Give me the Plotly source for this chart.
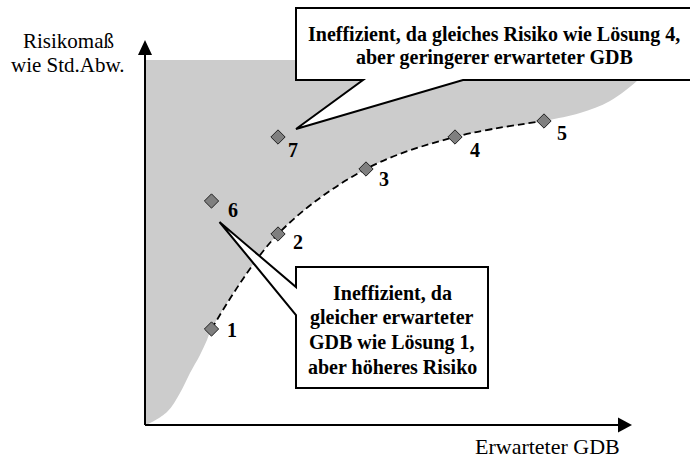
import plotly.graph_objects as go

# ---------------- data ----------------
labels = ["1", "2", "3", "4", "5", "6", "7"]
gdb = [1.33, 2.66, 4.42, 6.20, 7.98, 1.33, 2.66]       # Erwarteter GDB
risk = [1.92, 3.82, 5.12, 5.76, 6.08, 4.48, 5.76]      # Risikomaß
efficient = [0, 1, 2, 3, 4]                            # Lösungen 1-5 (effizient)

# boundary of the feasible (grey) region
region_low_x = [0.0, 0.0, 0.0, 0.44, 0.70, 0.90, 1.10, 1.24]
region_low_y = [7.30, 0.02, 0.0, 0.26, 0.64, 1.04, 1.40, 1.70]
region_up_x = [8.70, 9.30, 9.86, 10.20, 10.40]
region_up_y = [6.24, 6.48, 6.90, 7.26, 7.30]

# ---------------- layout helpers ----------------
W, H = 690, 461
PX = 50.0            # pixels per unit
OX, OY = 145, 425    # origin in pixels
XR = [-OX / PX, (W - OX) / PX]
YR = [-(H - OY) / PX, OY / PX]


def d(xp, yp):
    return ((xp - OX) / PX, (OY - yp) / PX)


def p(x, y):
    return (OX + x * PX, OY - y * PX)


def path(pts):
    s = ""
    for i, (xp, yp) in enumerate(pts):
        x, y = d(xp, yp)
        s += ("M" if i == 0 else "L") + f"{x:.4f},{y:.4f} "
    return s + "Z"


FONT = "Liberation Serif, Times New Roman, serif"

fig = go.Figure()

# grey region
eff_x = [gdb[i] for i in efficient]
eff_y = [risk[i] for i in efficient]
bx = region_low_x + eff_x + region_up_x
by = region_low_y + eff_y + region_up_y
fig.add_trace(go.Scatter(x=bx, y=by, mode="lines", fill="toself",
                         fillcolor="#cccccc", line=dict(width=0, shape="spline", smoothing=1),
                         hoverinfo="skip", showlegend=False))

# efficient frontier (dashed)
fig.add_trace(go.Scatter(x=eff_x, y=eff_y, mode="lines",
                         line=dict(color="black", width=1.8, dash="7px,4px",
                                   shape="spline", smoothing=1),
                         hoverinfo="skip", showlegend=False))

# solutions
fig.add_trace(go.Scatter(x=gdb, y=risk, mode="markers",
                         marker=dict(symbol="diamond", size=11, color="#7f7f7f",
                                     line=dict(color="#222222", width=1)),
                         hoverinfo="skip", showlegend=False))

# point labels
label_shift = [(20, -1), (20, -8), (18, -10), (20, -13), (18, -12), (21, -9), (15, -13)]
for lab, x, y, (sx, sy) in zip(labels, gdb, risk, label_shift):
    fig.add_annotation(x=x, y=y, text=f"<b>{lab}</b>", showarrow=False,
                       xshift=sx, yshift=sy, xanchor="center", yanchor="middle",
                       font=dict(family=FONT, size=20, color="black"))

shapes = []
# axes with arrow heads
yb = d(OX, 55)[1]
xb = d(618, OY)[0]
shapes.append(dict(type="line", x0=0, y0=0, x1=0, y1=yb, xref="x", yref="y",
                   line=dict(color="black", width=2)))
shapes.append(dict(type="line", x0=0, y0=0, x1=xb, y1=0, xref="x", yref="y",
                   line=dict(color="black", width=2)))
shapes.append(dict(type="path", xref="x", yref="y",
                   path=path([(OX - 7, 55), (OX + 7, 55), (OX, 40)]),
                   fillcolor="black", line=dict(width=0)))
shapes.append(dict(type="path", xref="x", yref="y",
                   path=path([(618, OY - 7.5), (618, OY + 7.5), (632, OY)]),
                   fillcolor="black", line=dict(width=0)))

# callouts
t7 = p(gdb[6], risk[6])
tip_top = (t7[0] + 18, t7[1] - 8)
t6 = p(gdb[5], risk[5])
tip_bot = (t6[0] + 8, t6[1] + 21)
shapes.append(dict(type="path", xref="x", yref="y",
                   path=path([(296, 8), (700, 8), (700, 80), (463, 80), tip_top,
                              (363, 80), (296, 80)]),
                   fillcolor="white", line=dict(color="black", width=2)))
shapes.append(dict(type="path", xref="x", yref="y",
                   path=path([(296, 267), (488, 267), (488, 388), (296, 388),
                              (296, 315), tip_bot, (296, 287)]),
                   fillcolor="white", line=dict(color="black", width=2)))


def text_px(t, xp, yp, size, bold=False, yanchor="middle"):
    fig.add_annotation(x=xp / W, y=1 - yp / H, xref="paper", yref="paper",
                       text=f"<b>{t}</b>" if bold else t, showarrow=False,
                       xanchor="center", yanchor=yanchor,
                       font=dict(family=FONT, size=size, color="black"))


text_px("Ineffizient, da gleiches Risiko wie Lösung 4,", 494, 35, 20, True)
text_px("aber geringerer erwarteter GDB", 494, 58, 20, True)
for t, yp in zip(["Ineffizient, da", "gleicher erwarteter", "GDB wie Lösung 1,",
                  "aber höheres Risiko"], [293, 317, 342, 367]):
    text_px(t, 392, yp, 20, True)

text_px("Risikomaß", 68, 41, 21)
text_px("wie Std.Abw.", 68, 65, 21)
text_px("Erwarteter GDB", 547, 461, 22, yanchor="bottom")

fig.update_layout(width=W, height=H, margin=dict(l=0, r=0, t=0, b=0),
                  paper_bgcolor="white", plot_bgcolor="white", shapes=shapes,
                  xaxis=dict(range=XR, visible=False, fixedrange=True),
                  yaxis=dict(range=YR, visible=False, fixedrange=True),
                  showlegend=False)
fig.write_html("out.html", config={"displayModeBar": False},
               post_script="document.body.style.margin='0px';")
